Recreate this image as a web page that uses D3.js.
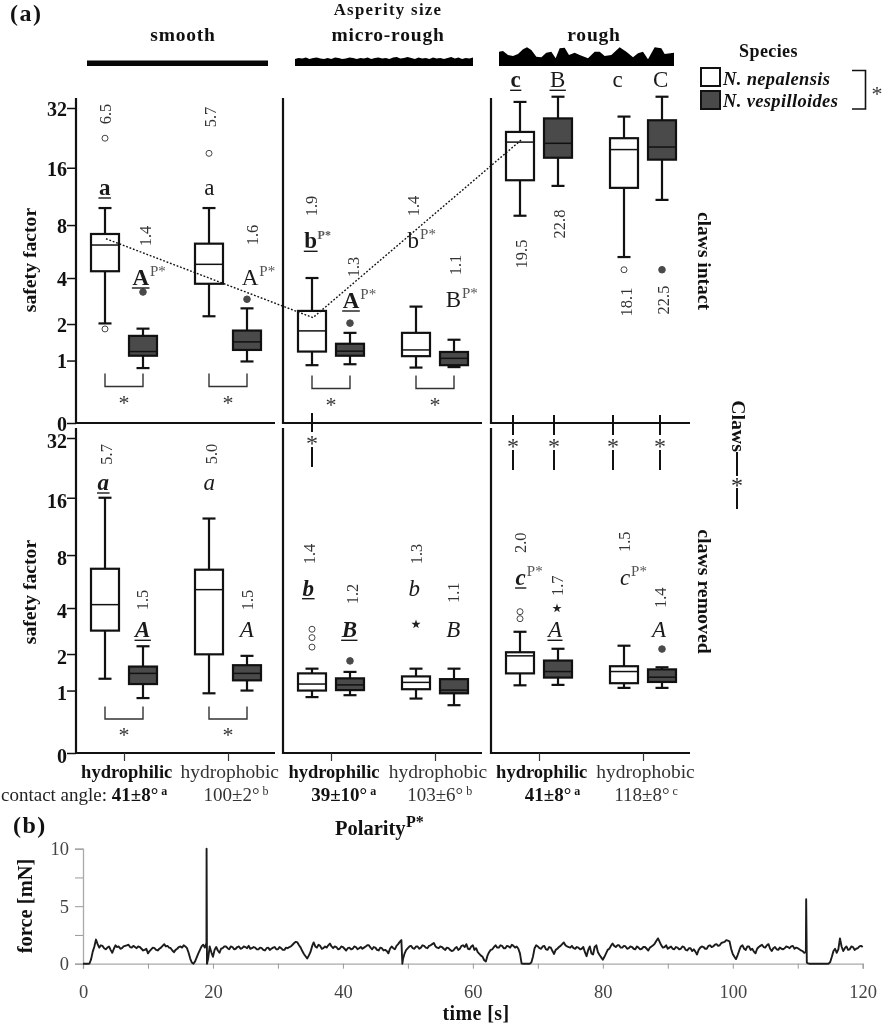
<!DOCTYPE html>
<html><head><meta charset="utf-8">
<script src="https://cdn.jsdelivr.net/npm/d3@7"></script>
<style>
html,body{margin:0;padding:0;background:#fff}
svg{display:block;filter:grayscale(1)}
text{font-family:"Liberation Serif",serif}
</style></head><body>
<svg id="c" width="883" height="1024"></svg>
<script>
// ---------- categories ----------
const clawStates = ["claws intact","claws removed"];
const surfaces = ["smooth","micro-rough","rough"];
const polarities = ["hydrophilic","hydrophobic"];
const species = ["N. nepalensis","N. vespilloides"];
const yTicks = [0,1,2,4,8,16,32];

// ---------- box statistics: order is claws x surface x polarity x species ----------
const wTop = [9.87,1.85,9.87,2.57, 4.0,1.72,2.64,1.52, 34.3,36.4,29.0,36.4, 16.0,2.27,12.5,1.94, 1.55,1.46,1.55,1.55, 2.84,2.18,2.29,1.59];
const q3   = [7.15,1.63,6.32,1.79, 2.47,1.41,1.72,1.20, 24.3,28.4,22.6,27.8, 6.73,1.61,6.65,1.65, 1.42,1.29,1.34,1.27, 2.06,1.79,1.62,1.53];
const med  = [6.21,1.21,4.82,1.46, 1.78,1.22,1.25,1.05, 21.6,21.3,19.8,20.4, 4.19,1.42,5.13,1.42, 1.15,1.13,1.19,1.01, 1.94,1.47,1.47,1.32];
const q1   = [4.39,1.11,3.69,1.25, 1.21,1.11,1.10,0.90, 13.8,18.0,12.6,17.6, 2.89,1.15,1.99,1.24, 1.00,1.01,1.03,0.94, 1.42,1.31,1.17,1.20];
const wBot = [2.02,0.84,2.27,0.98, 0.90,0.92,0.85,0.86, 8.98,12.9,5.31,10.9, 1.28,0.84,0.94,1.00, 0.86,0.90,0.83,0.70, 1.12,1.13,1.06,1.06];
const outlierBox   = [0,0,1,2,3,5,10,11,16,16,16,17,20,20,23];
const outlierValue = [22.6,1.84,3.28,18.95,2.95,2.03,4.48,4.48,2.95,2.60,2.24,1.78,3.80,3.44,2.17];
const extremeBox   = [18,21];
const extremeValue = [3.17,3.98];
const meanLineBox   = [0,4,8];
const meanLineValue = [6.73,2.22,22.1];

// ---------- printed texts per box ----------
const ratios = ["6.5","1.4","5.7","1.6","1.9","1.3","1.4","1.1","19.5","22.8","18.1","22.5",
                "5.7","1.5","5.0","1.5","1.4","1.2","1.3","1.1","2.0","1.7","1.5","1.4"];
const letters = ["a","A","a","A","b","A","b","B","c","B","c","C",
                 "a","A","a","A","b","B","b","B","c","A","c","A"];
const strong  = [1,1,0,0,1,1,0,0,1,0,0,0, 1,1,0,0,1,1,0,0,1,0,0,0];
const underlined = [1,1,0,0,1,1,0,0,1,1,0,0, 1,1,0,0,1,1,0,0,1,1,0,0];
const polaritySup = [0,1,0,1,1,1,1,1,0,0,0,0, 0,0,0,0,0,0,0,0,1,0,1,0];
const contactBold = ["41±8°","39±10°","41±8°"];
const contactSupBold = ["a","a","a"];
const contactReg = ["100±2°","103±6°","118±8°"];
const contactSupReg = ["b","b","c"];

// ---------- surface profiles (reading of the drawn silhouettes) ----------
const roughProfileX = [58,70,85,100,115,130,142,155,170,185,200,215,228,240,255,268,285,300,325,345,360,375,395,420,440,460,475,490,505,525,545,555,583];
const roughProfileH = [43,45,33,30,36,50,56,48,28,26,40,43,23,53,55,33,40,33,23,43,43,30,33,56,43,26,38,43,20,56,53,36,40];
const microProfile = [7,8,7.5,8.5,7,8,8.5,7.5,7,8,7,8.5,8,7,7.5,8.5,8,7,8,7.5,8.5,7,8,8.5,7.5,8,7,8.5,9,7.5,8,9,8,7,8.5,7.5,8,7,8.5,7.5,8,7,8,9,7.5,8.5,7,8,7.5,8.5];

// ---------- panel (b): force trace read every 0.5 s, in-between readings, and the narrow events ----------
const traceForce = [
0,0,0.02,1.05,2.1,1.4,1.55,1.25,1.5,0.95,1.6,1.5,1.35,1.55,1.65,1.4,1.45,1.5,1.3,1.2,
0.9,1.25,1.35,1.15,1.4,1.7,1.55,1.35,1.0,1.3,1.5,1.6,1.35,0.45,0,0.55,1.2,1.65,1.8,1.5,
0.6,1.45,0.95,1.35,1.5,1.25,1.45,1.3,1.5,1.35,1.45,1.55,1.35,1.4,1.25,1.35,1.15,1.4,1.3,1.45,
1.25,1.35,1.2,1.35,1.5,1.8,1.85,1.4,0.85,0.45,1.0,1.85,1.4,1.55,1.35,1.4,1.75,1.35,1.45,1.3,
1.45,1.15,1.4,1.3,1.45,1.35,1.3,1.5,1.6,1.25,1.4,1.15,1.35,1.2,0.9,1.5,1.25,1.7,2.05,0.9,
1.35,1.55,1.3,1.5,1.4,1.55,1.35,1.6,1.8,1.4,1.5,1.3,1.4,1.2,1.15,1.45,1.3,1.6,1.7,1.25,
1.6,1.35,0.85,0.6,0.2,1.0,1.25,1.6,1.4,1.55,1.35,1.5,1.65,1.4,1.3,0.02,0,0,0.1,1.35,
1.5,1.3,1.55,1.2,1.4,0.85,1.3,1.55,1.85,1.5,1.4,1.35,1.45,1.25,1.45,0.65,1.5,0.8,1.6,0.75,
0.35,0.9,1.3,1.75,1.45,1.6,1.4,1.5,1.35,1.45,1.25,1.4,1.3,1.45,1.15,1.5,1.75,2.2,1.6,1.45,
1.3,1.5,1.25,1.4,1.3,1.45,1.15,1.35,1.25,0.8,1.4,1.45,1.3,1.6,1.5,1.7,1.6,1.85,2.05,1.95,
0.85,0.4,1.15,1.6,1.2,1.5,1.3,0.9,1.45,1.65,1.4,1.7,1.1,1.45,1.2,1.3,1.35,1.45,1.5,1.3,
1.35,1.15,0.95,0.05,0,0,0,0,0,0,0.15,1.1,0.95,2.2,1.1,1.5,1.25,1.45,1.3,1.5,
1.45];
const traceMid = [
0,0,0.4,1.5,1.7,1.6,1.35,1.4,1.2,1.3,1.45,1.3,1.5,1.6,1.45,1.55,1.35,1.45,1.15,1.3,
1.1,1.4,1.2,1.3,1.55,1.5,1.4,1.15,1.2,1.45,1.4,1.5,0.95,0.1,0.2,0.9,1.5,1.4,0.4,1.0,
1.2,1.15,1.3,1.5,1.35,1.5,1.25,1.45,1.3,1.5,1.35,1.3,1.45,1.25,1.4,1.2,1.35,1.2,1.4,1.25,
1.45,1.2,1.4,1.45,1.65,1.9,1.6,1.1,0.65,0.7,1.5,1.5,1.65,1.3,1.5,1.6,1.5,1.5,1.25,1.5,
1.3,1.35,1.25,1.5,1.25,1.45,1.4,1.6,1.4,1.45,1.2,1.4,1.15,1.1,1.3,1.35,1.55,1.9,0.4,1.2,
1.5,1.35,1.5,1.3,1.6,1.4,1.55,1.7,1.5,1.35,1.45,1.2,1.35,1.1,1.35,1.2,1.55,1.45,1.3,1.5,
1.2,1.0,0.7,0.3,0.7,1.2,1.45,1.4,1.6,1.35,1.55,1.4,1.55,1.5,0.9,0,0,0,0.6,1.6,
1.35,1.5,1.25,1.45,1.1,1.2,1.45,1.7,1.6,1.45,1.55,1.3,1.4,1.3,1.0,1.2,0.9,1.45,1.0,0.55,
0.6,1.2,1.55,1.55,1.6,1.4,1.55,1.3,1.5,1.3,1.5,1.25,1.45,1.3,1.4,1.6,2.0,1.9,1.4,1.6,
1.4,1.3,1.45,1.25,1.5,1.2,1.35,1.1,1.05,1.2,1.5,1.3,1.55,1.45,1.65,1.55,1.8,1.9,2.0,1.3,
0.6,0.75,1.5,1.3,1.5,1.2,1.05,1.3,1.55,1.45,1.6,1.3,1.35,1.25,1.4,1.25,1.5,1.35,1.55,1.4,
1.25,1.1,1.0,0,0,0,0,0,0,0,0.6,1.3,1.25,1.5,1.35,1.2,1.5,1.2,1.35,1.55];
const eventTime  = [19.02,19.08,49.15,111.3,111.4];
const eventForce = [10,0,0,5.6,0.1];
const forceTicks = [0,2.5,5,7.5,10];
const timeTicks = [0,10,20,30,40,50,60,70,80,90,100,110,120];

// ---------- layout ----------
const svg = d3.select("#c");
const INK="#111", GREY="#333", DARK="#4a4a4a";
const panelX0 = [76,283,491];
const panelW = 199;
const yTop = d3.scaleSymlog().constant(1).domain([0,32]).range([423,108]);
const yBot = d3.scaleSymlog().constant(1).domain([0,32]).range([753,438]);
const yScales = [yTop,yBot];
const axisTop = [98,428];
const xGroup = panelX0.map(x0=>d3.scalePoint().domain(polarities).range([x0+48,x0+152]));
const xSpecies = d3.scalePoint().domain(species).range([-19,19]);
const boxW = 28, capW = 13, LW = 2.2;

const boxes = d3.cross(clawStates,surfaces,polarities,species).map((k,i)=>{
  const c=clawStates.indexOf(k[0]), s=surfaces.indexOf(k[1]);
  return {i,c,s,pol:k[2],sp:k[3],spIdx:species.indexOf(k[3]),
    x:xGroup[s](k[2])+xSpecies(k[3]),y:yScales[c],
    wTop:wTop[i],q3:q3[i],med:med[i],q1:q1[i],wBot:wBot[i]};
});

function T(x,y,str,o={}){
  const t=svg.append("text").attr("x",x).attr("y",y).text(str)
   .attr("font-size",o.size||17).attr("fill",o.fill||INK)
   .attr("text-anchor",o.anchor||"middle");
  if(o.bold)t.attr("font-weight","bold");
  if(o.italic)t.attr("font-style","italic");
  if(o.rot!==undefined){t.attr("transform",`rotate(${o.rot},${x},${y})`);}
  if(o.spacing)t.attr("letter-spacing",o.spacing);
  return t;
}
function star(cx,cy,size=22,fill=GREY){ return T(cx,cy+0.47*size,"*",{size,fill}); }

// headings
T(10,21,"(a)",{size:24,bold:true,anchor:"start",spacing:1.5});
T(13,833,"(b)",{size:24,bold:true,anchor:"start",spacing:1.5});
T(388,15,"Asperity size",{size:16.8,bold:true,spacing:1.3});
T(183,41,"smooth",{size:19.5,bold:true,spacing:0.8});
T(388,41,"micro-rough",{size:19.5,bold:true,spacing:0.8});
T(594,41,"rough",{size:19.5,bold:true,spacing:0.8});

// surface bars
const barBase=66;
svg.append("rect").attr("x",87).attr("y",60.5).attr("width",181).attr("height",5.5).attr("fill","#05051a");
const microX=d3.scaleLinear().domain([0,microProfile.length-1]).range([295,473]);
svg.append("path").attr("fill","#000").attr("d",
  d3.area().x((d,i)=>microX(i)).y0(barBase).y1(d=>barBase-d).curve(d3.curveLinear)(microProfile));
const roughX=d3.scaleLinear().domain([58,583]).range([499,674]);
const roughH=d3.scaleLinear().domain([0,60]).range([barBase,barBase-20]);
svg.append("path").attr("fill","#000").attr("d",
  d3.area().x((d,i)=>roughX(roughProfileX[i])).y0(barBase).y1(d=>roughH(d)).curve(d3.curveLinear)(roughProfileH));

// panel axes
clawStates.forEach((c,ci)=>{
  const y=yScales[ci];
  panelX0.forEach((x0,pi)=>{
    svg.append("line").attr("x1",x0).attr("x2",x0).attr("y1",axisTop[ci]).attr("y2",y(0)+1)
      .attr("stroke",INK).attr("stroke-width",LW);
    svg.append("line").attr("x1",x0).attr("x2",x0+panelW).attr("y1",y(0)).attr("y2",y(0))
      .attr("stroke",INK).attr("stroke-width",LW);
  });
  const ax=svg.append("g").attr("transform","translate(76,0)")
    .call(d3.axisLeft(y).tickValues(yTicks).tickSize(9).tickPadding(0).tickFormat(d3.format("d")));
  ax.select(".domain").remove();
  ax.selectAll(".tick line").attr("stroke",INK).attr("stroke-width",1.5);
  ax.selectAll(".tick text").attr("font-family",'"Liberation Serif",serif').attr("font-size",20)
    .attr("font-weight","bold").attr("fill",INK).attr("y",ci?3:1);
});
T(36,260,"safety factor",{size:19.7,bold:true,rot:-90});
T(36,592,"safety factor",{size:19.7,bold:true,rot:-90});

panelX0.forEach((x0,pi)=>{
  const a=svg.append("g").attr("transform",`translate(0,753)`)
    .call(d3.axisBottom(xGroup[pi]).tickSize(8).tickFormat(""));
  a.select(".domain").remove();
  a.selectAll(".tick line").attr("stroke",GREY).attr("stroke-width",1.2);
});

// boxes
const g=svg.append("g").selectAll("g").data(boxes).join("g");
g.append("line").attr("x1",d=>d.x).attr("x2",d=>d.x).attr("y1",d=>d.y(d.wTop)).attr("y2",d=>d.y(d.wBot))
  .attr("stroke",INK).attr("stroke-width",LW);
["wTop","wBot"].forEach(k=>g.append("line").attr("x1",d=>d.x-capW/2).attr("x2",d=>d.x+capW/2)
  .attr("y1",d=>d.y(d[k])).attr("y2",d=>d.y(d[k])).attr("stroke",INK).attr("stroke-width",LW));
g.append("rect").attr("x",d=>d.x-boxW/2).attr("width",boxW)
  .attr("y",d=>d.y(d.q3)).attr("height",d=>d.y(d.q1)-d.y(d.q3))
  .attr("fill",d=>d.spIdx? DARK:"#fff").attr("stroke",INK).attr("stroke-width",LW);
g.append("line").attr("x1",d=>d.x-boxW/2).attr("x2",d=>d.x+boxW/2)
  .attr("y1",d=>d.y(d.med)).attr("y2",d=>d.y(d.med)).attr("stroke",INK).attr("stroke-width",1.5);

// mean connector
const lineGen=d3.line().x(d=>boxes[d.b].x+1).y(d=>yTop(d.v));
svg.append("path").attr("fill","none").attr("stroke","#111").attr("stroke-width",1.4)
  .attr("stroke-dasharray","1.8 1.8")
  .attr("d",lineGen(meanLineBox.map((b,i)=>({b,v:meanLineValue[i]}))));

// outliers
outlierBox.forEach((b,i)=>{
  const d=boxes[b];
  svg.append("circle").attr("cx",d.x).attr("cy",d.y(outlierValue[i])).attr("r",d.spIdx?3.3:3)
    .attr("fill",d.spIdx?DARK:"#fff").attr("stroke",d.spIdx?DARK:"#444").attr("stroke-width",1);
});
extremeBox.forEach((b,i)=>{
  const d=boxes[b];
  svg.append("path").attr("transform",`translate(${d.x+(d.spIdx?-1:0)},${d.y(extremeValue[i])})`)
    .attr("d",d3.symbol().type(d3.symbolStar).size(26)()).attr("fill","#222");
});

// ratio labels (layout)
const ratioPos=[[105,114],[145.7,236],[210,117],[252,235],[311,206],[353.3,267],[413.3,206],[455,265],
 [521.7,254],[559.3,224],[626,302],[663.3,300],[106.7,454.3],[142.3,600],[211.7,454],[247.3,600],
 [309.3,554],[352.7,594],[416,554],[453.3,592.7],[520.7,542.7],[557.3,585.7],[625,541.7],[660.7,597.7]];
ratios.forEach((r,i)=>{
  const [x,y]=ratioPos[i];
  T(x+5.5,y,r,{size:16.5,fill:"#333",rot:-90});
});

// significance letters (layout)
const letterPos=[[104.7,195],[140.7,285],[209.3,195],[250,285],[310.7,248.3],[351,308],[413.3,248],[453.3,307],
 [515.7,87.3],[557.7,87.3],[617.7,87.3],[660.7,87.3],[103.3,490],[142.7,637.3],[209.3,490],[246.7,637.3],
 [308.3,595.7],[349.3,637.3],[414.3,595.7],[453.3,637.3],[520.7,585],[555,637.3],[625,585],[659,636.7]];
letters.forEach((l,i)=>{
  const [x,y]=letterPos[i];
  const removed=i>=12;
  const t=T(x,y,l,{size:23,bold:!!strong[i],italic:removed,fill:"#1a1a1a"});
  const w=t.node().getComputedTextLength();
  if(underlined[i]){
    svg.append("line").attr("x1",x-w/2-0.5).attr("x2",x+w/2+0.5).attr("y1",y+3).attr("y2",y+3)
      .attr("stroke","#1a1a1a").attr("stroke-width",1.4);
  }
  if(polaritySup[i]){
    T(x+w/2+(strong[i]&&i===4?0.5:1),y-9,"P*",{size:strong[i]&&i===4?12:15,anchor:"start",fill:"#555",bold:strong[i]&&i===4});
  }
});

// species brackets
const bracketPanels=[[0,2],[4,6],[12,14]];
const bracketY=[[373.5,386.5],[375.5,388.5],[706.5,719]];
bracketPanels.forEach((pair,k)=>{
  pair.forEach(b=>{
    const a=boxes[b].x, c=boxes[b+1].x;
    const [t,u]=bracketY[k];
    svg.append("path").attr("fill","none").attr("stroke",GREY).attr("stroke-width",1.4)
      .attr("d",d3.line()([[a,t],[a,u],[c,u],[c,t]]));
    star((a+c)/2,u+13);
  });
});

// claw-effect connectors
const clawLinks=[[312,413],[513,415],[554,415],[613,415],[660,415]];
clawLinks.forEach(([x,y0],i)=>{
  const sc=i===0?440:443, end=i===0?467:470;
  svg.append("line").attr("x1",x).attr("x2",x).attr("y1",y0).attr("y2",sc-8).attr("stroke",INK).attr("stroke-width",2);
  svg.append("line").attr("x1",x).attr("x2",x).attr("y1",sc+7).attr("y2",end).attr("stroke",INK).attr("stroke-width",2);
  star(x,sc,24,"#333");
});

// right side captions
T(698,261,"claws intact",{size:19.5,bold:true,rot:90});
T(698,591.5,"claws removed",{size:19.8,bold:true,rot:90});
T(732,426,"Claws",{size:19.8,bold:true,rot:90});
svg.append("line").attr("x1",737).attr("x2",737).attr("y1",452).attr("y2",476).attr("stroke",INK).attr("stroke-width",2);
svg.append("line").attr("x1",737).attr("x2",737).attr("y1",488).attr("y2",509).attr("stroke",INK).attr("stroke-width",2);
star(737,482,24,"#222");

// legend
T(768.5,57,"Species",{size:18,bold:true,spacing:0.4});
[[701,68,"#fff",85],[701,91,DARK,107]].forEach((d,i)=>{
  svg.append("rect").attr("x",d[0]).attr("y",d[1]).attr("width",19).attr("height",18)
    .attr("fill",d[2]).attr("stroke",INK).attr("stroke-width",2);
  T(723,d[3],species[i],{size:18.5,bold:true,italic:true,anchor:"start",spacing:0.35});
});
svg.append("path").attr("fill","none").attr("stroke",INK).attr("stroke-width",1.6)
  .attr("d",d3.line()([[852,70.5],[865.5,70.5],[865.5,109],[852,109]]));
star(877,91,22,"#333");

// wettability labels
const polarityCenters=[[126.7,229.7],[334,438],[541.7,645.5]];
const contactCenters=[[null,236],[343.7,439.7],[552.5,646]];
polarityCenters.forEach((p,i)=>{
  T(p[0],778,polarities[0],{size:18.5,bold:true});
  T(p[1],778,polarities[1],{size:19.5,fill:"#333"});
});
function contact(x,y,bold,main,sup,lead){
  const t=svg.append("text").attr("x",x).attr("y",y).attr("font-size",19).attr("fill",bold?INK:"#333")
    .attr("text-anchor",lead?"start":"middle");
  if(lead)t.append("tspan").text(lead).attr("font-weight","normal").attr("fill","#222");
  t.append("tspan").text(main).attr("font-weight",bold?"bold":"normal");
  t.append("tspan").text(" "+sup).attr("font-size",12).attr("dy",-6).attr("font-weight",bold?"bold":"normal");
}
contact(1,801,true,contactBold[0],contactSupBold[0],"contact angle: ");
contact(contactCenters[0][1],801,false,contactReg[0],contactSupReg[0]);
contact(contactCenters[1][0],801,true,contactBold[1],contactSupBold[1]);
contact(contactCenters[1][1],801,false,contactReg[1],contactSupReg[1]);
contact(contactCenters[2][0],801,true,contactBold[2],contactSupBold[2]);
contact(contactCenters[2][1],801,false,contactReg[2],contactSupReg[2]);

// panel (b)
const pt=T(335,835,"Polarity",{size:20.5,bold:true,anchor:"start"});
T(335+pt.node().getComputedTextLength()+0.5,827,"P*",{size:16,bold:true,anchor:"start"});
const xT=d3.scaleLinear().domain([0,120]).range([83,862.7]);
const yF=d3.scaleLinear().domain([0,10]).range([963.7,848.7]);
const axB=svg.append("g").attr("transform","translate(0,963.7)")
  .call(d3.axisBottom(xT).tickValues(timeTicks).tickSize(5).tickPadding(16).tickFormat(d=>d%20===0?d:""));
const axL=svg.append("g").attr("transform","translate(83,0)")
  .call(d3.axisLeft(yF).tickValues(forceTicks).tickSize(8).tickPadding(6).tickFormat(d=>d%5===0?d:""));
[axB,axL].forEach(a=>{
  a.select(".domain").attr("stroke","#aaa").attr("stroke-width",1.3);
  a.selectAll(".tick line").attr("stroke","#999").attr("stroke-width",1);
  a.selectAll(".tick text").attr("font-family",'"Liberation Serif",serif').attr("font-size",18.5).attr("fill","#444");
});
const tracePts=traceForce.map((f,i)=>[i*0.5,f])
  .concat(traceMid.map((f,i)=>[i*0.5+0.25,f]))
  .concat(eventTime.map((t,i)=>[t,eventForce[i]]))
  .sort((a,b)=>a[0]-b[0]);
svg.append("path").attr("fill","none").attr("stroke","#1c1c1c").attr("stroke-width",1.9).attr("stroke-linejoin","round")
  .attr("d",d3.line().x(d=>xT(d[0])).y(d=>yF(d[1]))(tracePts));
T(32,906,"force [mN]",{size:20.5,bold:true,rot:-90});
T(476,1020,"time [s]",{size:20,bold:true,spacing:0.4});
</script>
</body></html>
